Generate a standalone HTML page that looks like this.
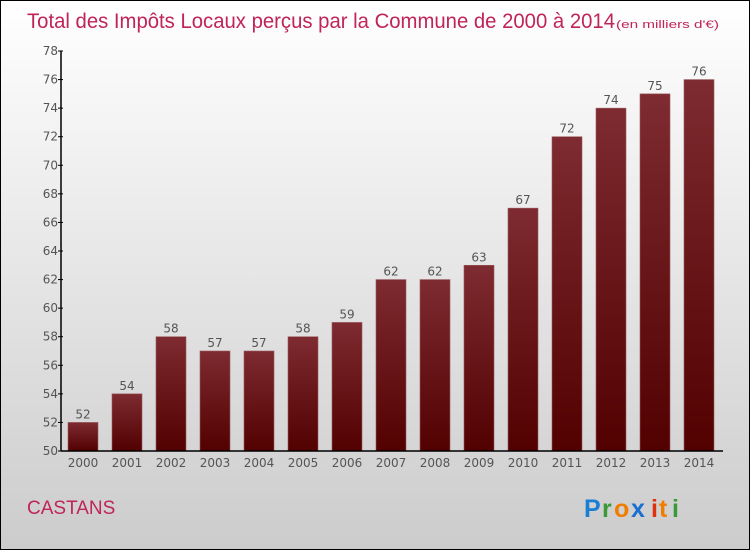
<!DOCTYPE html>
<html><head><meta charset="utf-8"><style>
body{margin:0}
#c{width:748px;height:548px;border:1px solid #000;background:linear-gradient(#fff,#ccc);position:relative;overflow:hidden;font-family:"DejaVu Sans","Liberation Sans",sans-serif}
</style></head><body>
<div id="c">
<svg width="748" height="548" id="s">
<defs><linearGradient id="g" x1="0" y1="0" x2="0" y2="1"><stop offset="0" stop-color="#7e2b31"/><stop offset="1" stop-color="#520000"/></linearGradient></defs>
<text x="26" y="27" font-size="21" fill="#c0245a" font-family="Liberation Sans, sans-serif" textLength="588" lengthAdjust="spacingAndGlyphs">Total des Impôts Locaux perçus par la Commune de 2000 à 2014</text>
<text x="615" y="27" font-size="11" fill="#c0245a" font-family="Liberation Sans, sans-serif" textLength="103" lengthAdjust="spacingAndGlyphs">(en milliers d'€)</text>
<text x="26" y="513" font-size="19" fill="#c0245a" font-family="Liberation Sans, sans-serif">CASTANS</text>
<g font-family="Liberation Sans, sans-serif" font-size="25" font-weight="bold"><text x="583" y="516" fill="#1a7fd4">P</text><text x="601" y="516" fill="#3a9a3a">r</text><text x="613" y="516" fill="#f07d00">o</text><text x="630" y="516" fill="#1a6fd0">x</text><text x="650" y="516" fill="#e03010">i</text><text x="658" y="516" fill="#f07d00">t</text><text x="671" y="516" fill="#3a9a3a">i</text></g>
<g id="bars"></g><g id="axes"></g>
</svg></div>
<script>
const years=["2000","2001","2002","2003","2004","2005","2006","2007","2008","2009","2010","2011","2012","2013","2014"];
const values=[52,54,58,57,57,58,59,62,62,63,67,72,74,75,76];
const yTicks=[50,52,54,56,58,60,62,64,66,68,70,72,74,76,78];
const NS="http://www.w3.org/2000/svg";
const y=v=>450-(v-50)*(400/28);
const x=i=>82+i*44;
function mk(t,a,p){const e=document.createElementNS(NS,t);for(const k in a)e.setAttribute(k,a[k]);p.appendChild(e);return e;}
const bars=document.getElementById('bars'),ax=document.getElementById('axes');
values.forEach((v,i)=>{
 const r=mk('rect',{x:x(i)-15,y:y(v),width:30,height:450-y(v),fill:'url(#g)',stroke:'#9a5a5e','stroke-width':0.6},bars);
 
 
 const t=mk('text',{x:x(i),y:y(v)-4,'text-anchor':'middle','font-size':12,fill:'#555'},bars);t.textContent=v;
 
 
 const xl=mk('text',{x:x(i),y:466,'text-anchor':'middle','font-size':12,fill:'#555'},ax);xl.textContent=years[i];
 
 
});
const ya=mk('line',{x1:60,y1:y(78),x2:60,y2:450,stroke:'#000','stroke-width':1.5},ax);


const xa=mk('line',{x1:60,y1:450,x2:722,y2:450,stroke:'#000','stroke-width':1.5},ax);


yTicks.forEach(v=>{
 mk('line',{x1:57,y1:y(v),x2:62,y2:y(v),stroke:'#000'},ax);
 const t=mk('text',{x:57,y:y(v)+4,'text-anchor':'end','font-size':12,fill:'#555'},ax);t.textContent=v;
 
 
});
</script>
</body></html>
